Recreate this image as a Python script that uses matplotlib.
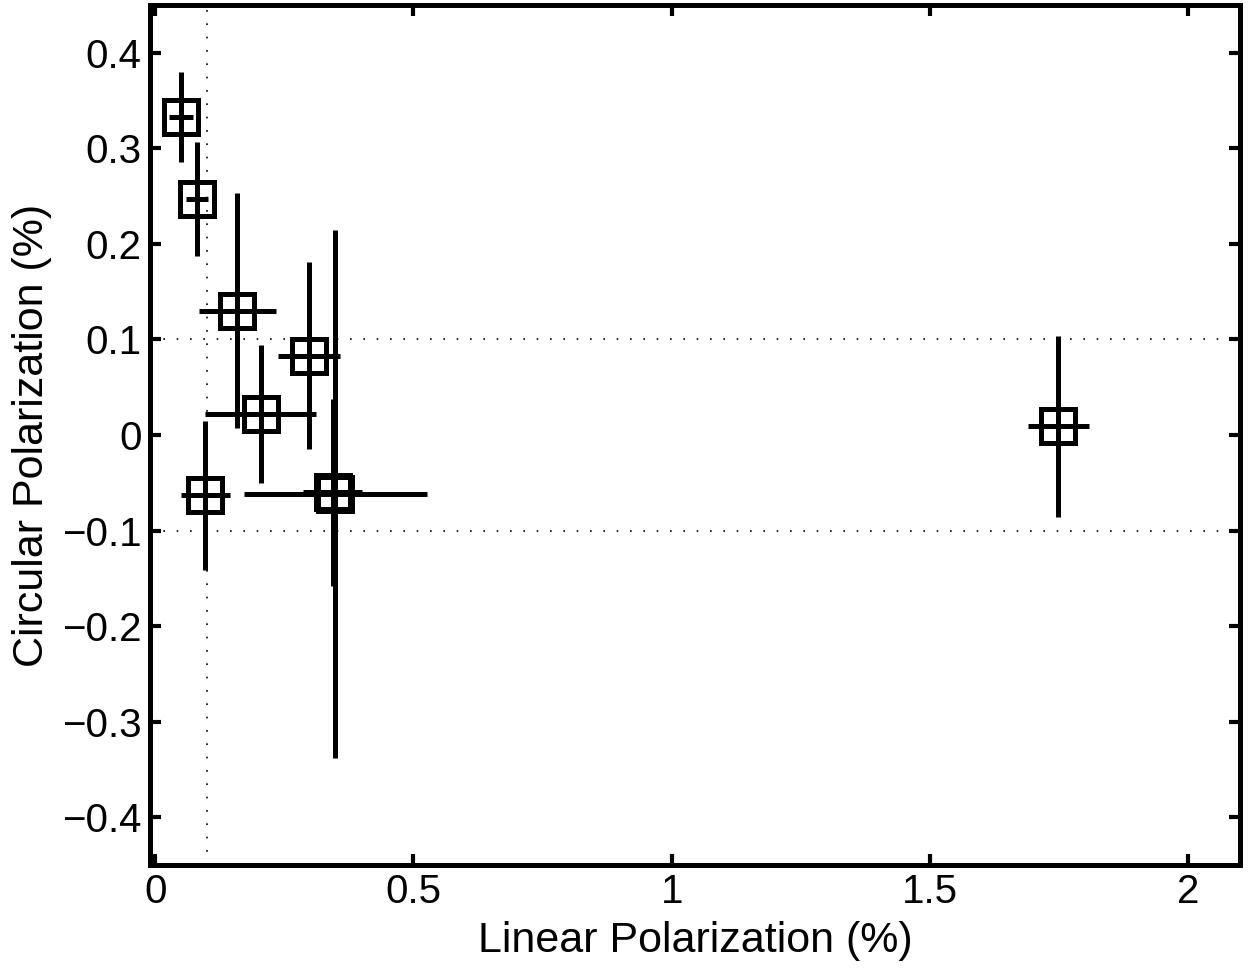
import matplotlib.pyplot as plt
import numpy as np

# linear / circular polarization with errors (%)
lin = [0.050, 0.081, 0.159, 0.297, 0.204, 0.097, 0.349, 0.344, 1.748]
lin_err = [0.024, 0.022, 0.075, 0.060, 0.107, 0.047, 0.177, 0.057, 0.059]
circ = [0.333, 0.247, 0.130, 0.083, 0.022, -0.063, -0.062, -0.060, 0.009]
circ_err = [0.047, 0.060, 0.123, 0.098, 0.072, 0.078, 0.276, 0.098, 0.095]

xticks = [0, 0.5, 1, 1.5, 2]
yticks = [-0.4, -0.3, -0.2, -0.1, 0, 0.1, 0.2, 0.3, 0.4]

plt.rcParams['font.family'] = ['Liberation Sans', 'DejaVu Sans']

fig = plt.figure(figsize=(12.48, 9.71), dpi=100)
ax = fig.add_axes([0.1202, 0.1092, 0.9936 - 0.1202, 0.9949 - 0.1092])

# dotted reference lines
ax.axhline(0.1, color='k', lw=1.2, ls=(0, (1, 7)), zorder=1)
ax.axhline(-0.1, color='k', lw=1.2, ls=(0, (1, 7)), zorder=1)
ax.axvline(0.1, color='k', lw=1.2, ls=(0, (1, 7)), zorder=1)

ax.errorbar(lin, circ, xerr=lin_err, yerr=circ_err, fmt='s', color='k',
            mfc='none', mec='k', ms=24, mew=3.6, elinewidth=3.6, capsize=0,
            zorder=3)

ax.set_xlim(-0.01, 2.1)
ax.set_ylim(-0.45, 0.45)
ax.set_xticks(xticks)
ax.set_xticklabels(['0', '0.5', '1', '1.5', '2'])
ax.set_yticks(yticks)
ax.set_yticklabels(['\u22120.4', '\u22120.3', '\u22120.2', '\u22120.1', '0',
                    '0.1', '0.2', '0.3', '0.4'])

for s in ax.spines.values():
    s.set_linewidth(3.6)
ax.tick_params(direction='in', length=8, width=3, labelsize=29,
               top=True, right=True, pad=6)

ax.set_xlabel('Linear Polarization (%)', fontsize=31, labelpad=7)
ax.set_ylabel('Circular Polarization (%)', fontsize=31, labelpad=7)

fig.savefig('out.png', dpi=100)
